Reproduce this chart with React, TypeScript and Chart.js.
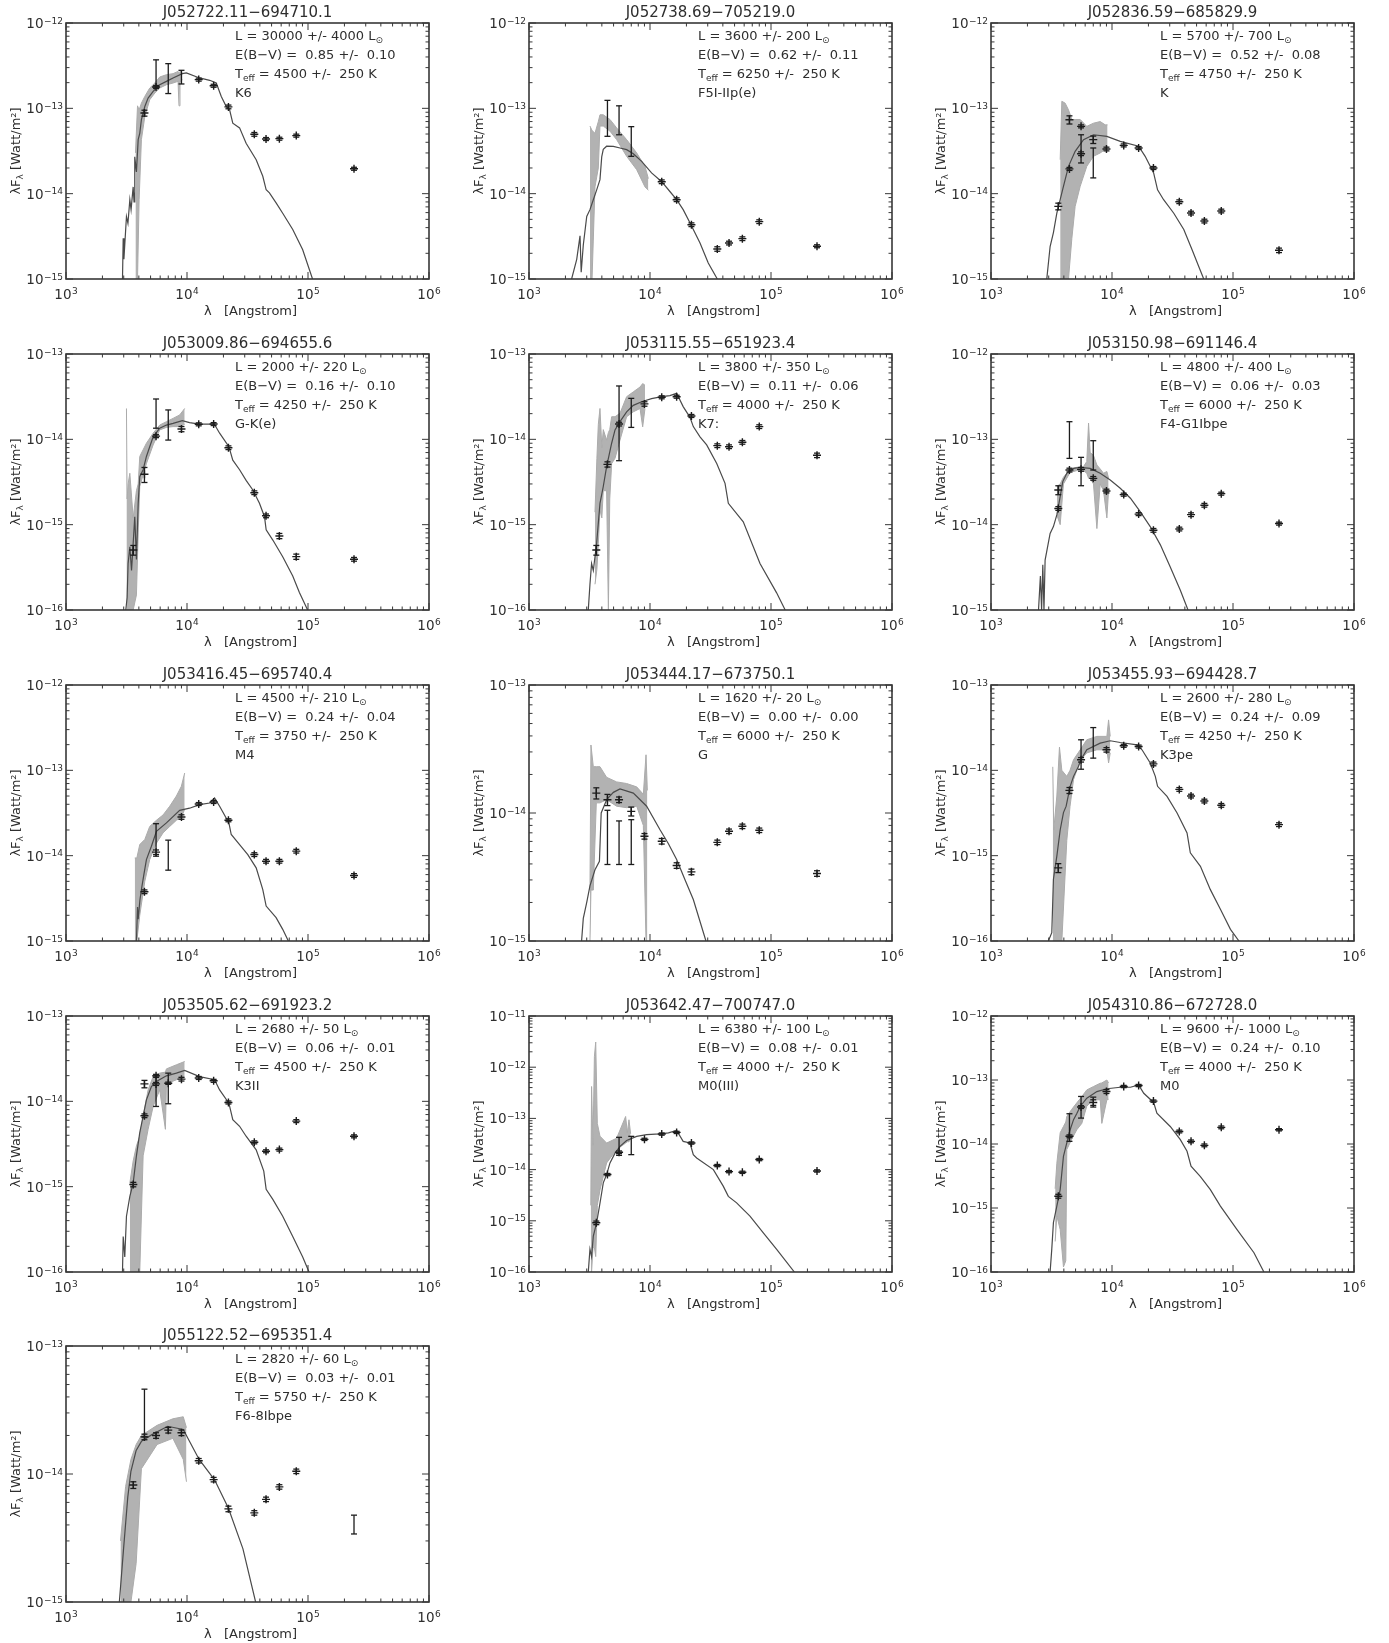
import React, { useEffect, useRef } from "react";
import { Chart, registerables } from "chart.js";

Chart.register(...registerables);

type XY = [number, number];
type Band = [number, number, number]; // wavelength, upper, lower
type Phot = [number, number, number]; // wavelength, flux, fractional error
type Bar = [number, number, number]; // wavelength, low, high

// ---------- titles and fit results ----------
const titles = [
  "J052722.11−694710.1", "J052738.69−705219.0", "J052836.59−685829.9",
  "J053009.86−694655.6", "J053115.55−651923.4", "J053150.98−691146.4",
  "J053416.45−695740.4", "J053444.17−673750.1", "J053455.93−694428.7",
  "J053505.62−691923.2", "J053642.47−700747.0", "J054310.86−672728.0",
  "J055122.52−695351.4",
];
const lumText = ["30000 +/- 4000", "3600 +/- 200", "5700 +/- 700", "2000 +/- 220", "3800 +/- 350", "4800 +/- 400", "4500 +/- 210", "1620 +/- 20", "2600 +/- 280", "2680 +/- 50", "6380 +/- 100", "9600 +/- 1000", "2820 +/- 60"];
const ebvText = ["0.85 +/-  0.10", "0.62 +/-  0.11", "0.52 +/-  0.08", "0.16 +/-  0.10", "0.11 +/-  0.06", "0.06 +/-  0.03", "0.24 +/-  0.04", "0.00 +/-  0.00", "0.24 +/-  0.09", "0.06 +/-  0.01", "0.08 +/-  0.01", "0.24 +/-  0.10", "0.03 +/-  0.01"];
const teffText = ["4500 +/-  250", "6250 +/-  250", "4750 +/-  250", "4250 +/-  250", "4000 +/-  250", "6000 +/-  250", "3750 +/-  250", "6000 +/-  250", "4250 +/-  250", "4500 +/-  250", "4000 +/-  250", "4000 +/-  250", "5750 +/-  250"];
const spTypes = ["K6", "F5I-IIp(e)", "K", "G-K(e)", "K7:", "F4-G1Ibpe", "M4", "G", "K3pe", "K3II", "M0(III)", "M0", "F6-8Ibpe"];
const yMins = [1e-15, 1e-15, 1e-15, 1e-16, 1e-16, 1e-15, 1e-15, 1e-15, 1e-16, 1e-16, 1e-16, 1e-16, 1e-15];
const yMaxs = [1e-12, 1e-12, 1e-12, 1e-13, 1e-13, 1e-12, 1e-12, 1e-13, 1e-13, 1e-13, 1e-11, 1e-12, 1e-13];
const xMin = 1e3;
const xMax = 1e6;

// ---------- panel 1 ----------
const p1Model: XY[] = [[2930,1.0e-15],[2970,3.0e-15],[3010,1.7e-15],[3160,5.4e-15],[3250,4.5e-15],[3370,8.5e-15],[3450,6.5e-15],[3590,1.2e-14],[3650,8.0e-15],[3700,2.7e-14],[3820,1.8e-14],[3950,4.3e-14],[4070,5.1e-14],[4200,7.4e-14],[4480,1.05e-13],[4770,1.32e-13],[5250,1.58e-13],[5950,1.89e-13],[6760,2.07e-13],[7670,2.27e-13],[9150,2.55e-13],[9880,2.6e-13],[12700,2.27e-13],[15400,2.13e-13],[17460,1.98e-13],[19200,1.38e-13],[21100,1.05e-13],[22500,9.6e-14],[23900,6.7e-14],[27200,5.9e-14],[30800,3.9e-14],[37300,2.5e-14],[42300,1.6e-14],[45100,1.11e-14],[48000,1.02e-14],[54500,7.8e-15],[61800,5.9e-15],[74800,3.8e-15],[90400,2.2e-15],[109000,1.0e-15]];
const p1Spec: Band[] = [[3750,3.0e-14,1.0e-15],[3900,1.07e-13,1.0e-15],[4020,9.6e-14,8.5e-15],[4200,1.15e-13,4.3e-14],[4480,1.38e-13,8.0e-14],[4920,1.73e-13,1.26e-13],[5420,1.98e-13,1.51e-13],[5950,2.33e-13,1.73e-13],[6760,2.48e-13,1.89e-13],[7670,2.55e-13,1.98e-13],[8430,2.71e-13,2.07e-13],[8590,2.6e-13,1.07e-13],[8750,2.71e-13,2.0e-13],[9150,2.64e-13,2.17e-13]];
const p1Phot: Phot[] = [[4450,8.8e-14,0.08],[5550,1.78e-13,0.04],[12500,2.17e-13,0.04],[16600,1.84e-13,0.04],[22000,1.04e-13,0.05],[36000,4.96e-14,0.05],[45000,4.37e-14,0.04],[58000,4.41e-14,0.04],[80000,4.79e-14,0.04],[240000,1.96e-14,0.04]];
const p1Bars: Bar[] = [[5550,1.78e-13,3.7e-13],[7000,1.49e-13,3.34e-13],[9000,1.93e-13,2.79e-13]];

// ---------- panel 2 ----------
const p2Model: XY[] = [[2250,1.0e-15],[2480,1.7e-15],[2640,3.2e-15],[2700,1.2e-15],[2810,2.5e-15],[3000,5.4e-15],[3190,6.5e-15],[3400,8.5e-15],[3620,1.1e-14],[3860,1.46e-14],[3990,2.7e-14],[4110,3.3e-14],[4380,3.6e-14],[4980,3.59e-14],[5650,3.43e-14],[6410,3.28e-14],[7280,2.94e-14],[8530,2.39e-14],[10300,1.75e-14],[12500,1.38e-14],[14600,1.06e-14],[16600,8.5e-15],[18800,6.5e-15],[21800,4.33e-15],[25900,2.64e-15],[30300,1.54e-15],[36000,1.0e-15]];
const p2Spec: Band[] = [[3190,6.2e-14,1.0e-15],[3320,5.5e-14,1.0e-15],[3510,5.1e-14,1.2e-14],[3740,7.0e-14,2.0e-14],[3860,8.4e-14,6.2e-14],[4110,8.4e-14,6.2e-14],[4670,7.4e-14,5.4e-14],[5300,5.9e-14,4.3e-14],[6410,4.3e-14,2.74e-14],[7760,3.0e-14,1.91e-14],[9090,2.09e-14,1.2e-14],[9690,1.5e-14,1.1e-14]];
const p2Phot: Phot[] = [[12500,1.38e-14,0.05],[16600,8.5e-15,0.05],[22000,4.33e-15,0.05],[36000,2.25e-15,0.06],[45000,2.64e-15,0.05],[58000,2.97e-15,0.05],[80000,4.7e-15,0.05],[240000,2.42e-15,0.04]];
const p2Bars: Bar[] = [[4450,4.7e-14,1.24e-13],[5550,4.9e-14,1.07e-13],[7000,2.74e-14,6.1e-14]];

// ---------- panel 3 ----------
const p3Model: XY[] = [[2890,1.0e-15],[3080,2.4e-15],[3280,3.5e-15],[3500,5.9e-15],[3730,8.5e-15],[3970,1.22e-14],[4370,2.09e-14],[4960,3.13e-14],[5820,4.3e-14],[7030,4.9e-14],[9070,4.7e-14],[11700,4.1e-14],[16600,3.6e-14],[18800,2.74e-14],[22080,1.75e-14],[23800,1.11e-14],[26700,8.5e-15],[32400,5.9e-15],[39200,3.8e-15],[45900,2.2e-15],[52100,1.4e-15],[57300,1.0e-15]];
const p3Spec: Band[] = [[3730,2.5e-14,1.0e-15],[3850,1.21e-13,1.0e-15],[4100,1.15e-13,1.0e-15],[4370,9.6e-14,1.0e-15],[4660,7.4e-14,3.0e-15],[4960,7.4e-14,7.1e-15],[5460,7.4e-14,1.22e-14],[6190,6.15e-14,2.09e-14],[7030,6.7e-14,2.74e-14],[7990,7.0e-14,3.0e-14],[8790,6.4e-14,3.3e-14],[9190,6.4e-14,3.6e-14]];
const p3Phot: Phot[] = [[3600,7.1e-15,0.09],[4450,7.36e-14,0.11],[4450,1.95e-14,0.04],[5550,6.15e-14,0.04],[5550,2.94e-14,0.05],[7000,4.3e-14,0.1],[9000,3.34e-14,0.05],[12500,3.68e-14,0.04],[16600,3.43e-14,0.04],[22000,2.0e-14,0.04],[36000,8.05e-15,0.05],[45000,5.93e-15,0.05],[58000,4.78e-15,0.05],[80000,6.27e-15,0.05],[240000,2.17e-15,0.06]];
const p3Bars: Bar[] = [[5550,2.29e-14,4.9e-14],[7000,1.53e-14,3.43e-14]];

// ---------- panel 4 ----------
const p4Model: XY[] = [[3120,1.0e-16],[3200,1.4e-16],[3260,3.5e-16],[3370,5.5e-16],[3480,2.9e-16],[3590,6.0e-16],[3700,1.24e-15],[3820,3.9e-16],[3950,1.78e-15],[4070,3.65e-15],[4340,4.4e-15],[4620,6.3e-15],[4920,8.2e-15],[5250,1.07e-14],[5950,1.35e-14],[6760,1.47e-14],[7670,1.54e-14],[9150,1.66e-14],[10500,1.57e-14],[12700,1.51e-14],[16800,1.51e-14],[18600,1.18e-14],[22200,8.2e-15],[23900,5.7e-15],[27200,4.4e-15],[30800,3.3e-15],[35000,2.55e-15],[39700,1.78e-15],[43700,1.24e-15],[45100,8.7e-16],[51200,6.6e-16],[61800,4.2e-16],[74800,2.5e-16],[84900,1.6e-16],[99300,1.0e-16]];
const p4Spec: Band[] = [[3160,2.3e-14,1.0e-16],[3200,2.0e-15,1.0e-16],[3260,3.0e-15,1.0e-16],[3370,4.0e-15,1.0e-16],[3590,1.2e-15,1.0e-16],[3820,2.5e-15,1.5e-16],[3950,3.0e-15,8.0e-16],[4070,6.3e-15,2.8e-15],[4620,9.0e-15,5.2e-15],[5250,1.18e-14,8.6e-15],[5950,1.47e-14,1.29e-14],[6760,1.61e-14,1.38e-14],[7670,1.76e-14,1.41e-14],[8700,1.93e-14,1.41e-14],[9570,2.3e-14,1.5e-14]];
const p4Phot: Phot[] = [[3600,5.05e-16,0.13],[4450,3.9e-15,0.2],[5550,1.09e-14,0.04],[9000,1.32e-14,0.07],[12500,1.5e-14,0.04],[16600,1.51e-14,0.04],[22000,7.98e-15,0.05],[36000,2.37e-15,0.05],[45000,1.27e-15,0.05],[58000,7.37e-16,0.07],[80000,4.22e-16,0.07],[240000,3.93e-16,0.05]];
const p4Bars: Bar[] = [[5550,1.35e-14,2.97e-14],[7000,9.8e-15,2.21e-14]];

// ---------- panel 5 ----------
const p5Model: XY[] = [[3090,1.0e-16],[3190,2.0e-16],[3290,3.5e-16],[3400,2.9e-16],[3620,6.0e-16],[3860,1.78e-15],[4110,2.8e-15],[4380,4.8e-15],[4820,9.0e-15],[5140,1.29e-14],[5650,1.61e-14],[6410,2.1e-14],[7280,2.5e-14],[8530,2.76e-14],[10300,3.0e-14],[12500,3.16e-14],[14600,3.25e-14],[16600,3.46e-14],[18800,2.42e-14],[21400,1.81e-14],[22800,1.41e-14],[25900,1.07e-14],[29400,8.6e-15],[35600,5.2e-15],[41700,3.05e-15],[44400,1.78e-15],[59000,1.08e-15],[81100,3.5e-16],[111000,1.6e-16],[131000,1.0e-16]];
const p5Spec: Band[] = [[3510,1.4e-15,2.0e-16],[3640,6.0e-15,3.0e-16],[3740,1.5e-14,6.0e-16],[3860,2.3e-14,1.5e-15],[4000,8.0e-15,1.2e-15],[4110,1.3e-14,2.5e-15],[4380,9.8e-15,2.5e-15],[4530,1.2e-14,1.0e-16],[4650,1.3e-14,2.0e-15],[4820,1.84e-14,5.2e-15],[5140,1.84e-14,6.0e-15],[5650,2.02e-14,9.8e-15],[6410,3.16e-14,1.84e-14],[7280,3.6e-14,2.1e-14],[8270,4.1e-14,2.3e-14],[8700,4.5e-14,1.4e-14],[9090,4.3e-14,2.3e-14]];
const p5Phot: Phot[] = [[3600,5.05e-16,0.13],[4450,5.09e-15,0.07],[5550,1.51e-14,0.05],[9000,2.6e-14,0.06],[12500,3.11e-14,0.04],[16600,3.16e-14,0.04],[22000,1.88e-14,0.04],[36000,8.43e-15,0.05],[45000,8.2e-15,0.05],[58000,9.23e-15,0.05],[80000,1.41e-14,0.05],[240000,6.5e-15,0.06]];
const p5Bars: Bar[] = [[5550,5.62e-15,4.22e-14],[7000,1.38e-14,3.02e-14]];

// ---------- panel 6 ----------
const p6Model: XY[] = [[2470,1.0e-15],[2560,2.5e-15],[2620,1.0e-15],[2680,3.4e-15],[2740,1.0e-15],[2800,3.85e-15],[3080,7.9e-15],[3280,9.5e-15],[3500,1.3e-14],[3730,2.13e-14],[3920,3.2e-14],[4230,4.0e-14],[4810,4.57e-14],[5460,4.7e-14],[6600,4.57e-14],[7990,4.0e-14],[9670,3.34e-14],[11700,2.67e-14],[14200,2.04e-14],[17100,1.42e-14],[20700,9.5e-15],[25100,5.8e-15],[30300,3.2e-15],[36700,1.7e-15],[42500,1.0e-15]];
const p6Spec: Band[] = [[3500,2.8e-14,1.3e-14],[3730,3.0e-14,1.0e-14],[3970,3.6e-14,3.0e-14],[4510,4.5e-14,4.1e-14],[5120,4.7e-14,4.3e-14],[5820,4.8e-14,4.3e-14],[6190,5.5e-14,4.0e-14],[6400,1.55e-13,3.5e-14],[6600,7.0e-14,3.5e-14],[7030,6.5e-14,3.0e-14],[7500,5.0e-14,9.0e-15],[7990,4.5e-14,3.0e-14],[8510,4.0e-14,2.5e-14],[9070,4.2e-14,1.2e-14],[9370,3.5e-14,2.5e-14]];
const p6Phot: Phot[] = [[3600,2.55e-14,0.12],[3600,1.55e-14,0.05],[4450,4.37e-14,0.05],[5550,4.45e-14,0.05],[7000,3.49e-14,0.05],[9000,2.48e-14,0.05],[12500,2.25e-14,0.04],[16600,1.33e-14,0.04],[22000,8.59e-15,0.05],[36000,8.9e-15,0.05],[45000,1.31e-14,0.05],[58000,1.69e-14,0.05],[80000,2.31e-14,0.04],[240000,1.03e-14,0.04]];
const p6Bars: Bar[] = [[4450,5.98e-14,1.61e-13],[5550,2.86e-14,6.15e-14],[7000,4.37e-14,9.64e-14]];

// ---------- panel 7 ----------
const p7Model: XY[] = [[3820,1.0e-15],[3900,2.5e-15],[3950,1.8e-15],[4080,3.0e-15],[4200,4.0e-15],[4400,6.0e-15],[4620,9.0e-15],[5080,1.29e-14],[5590,1.93e-14],[6760,2.42e-14],[8700,3.4e-14],[10500,3.6e-14],[12700,3.96e-14],[15400,4.14e-14],[16900,4.73e-14],[18600,3.8e-14],[22200,2.42e-14],[23200,1.77e-14],[27200,1.35e-14],[31800,1.03e-14],[37300,7.2e-15],[42300,4.0e-15],[45100,2.57e-15],[54500,1.88e-15],[61800,1.37e-15],[68800,1.0e-15]];
const p7Spec: Band[] = [[3700,9.4e-15,1.0e-15],[3850,9.4e-15,1.0e-15],[4070,1.35e-14,2.0e-15],[4480,1.55e-14,5.0e-15],[4920,2.2e-14,9.0e-15],[5590,2.6e-14,1.4e-14],[6340,3.0e-14,1.85e-14],[7200,3.8e-14,2.2e-14],[8170,5.0e-14,2.6e-14],[8980,6.5e-14,2.8e-14],[9570,9.3e-14,3.5e-14]];
const p7Phot: Phot[] = [[4450,3.78e-15,0.05],[5550,1.1e-14,0.06],[9000,2.84e-14,0.06],[12500,4.03e-14,0.04],[16600,4.26e-14,0.04],[22000,2.6e-14,0.04],[36000,1.03e-14,0.05],[45000,8.61e-15,0.05],[58000,8.61e-15,0.05],[80000,1.13e-14,0.05],[240000,5.86e-15,0.05]];
const p7Bars: Bar[] = [[5550,9.86e-15,2.37e-14],[7000,6.76e-15,1.52e-14]];

// ---------- panel 8 ----------
const p8Model: XY[] = [[2720,1.0e-15],[2810,1.5e-15],[3000,2.0e-15],[3190,2.7e-15],[3510,3.6e-15],[3820,4.2e-15],[3950,1.0e-14],[4380,1.27e-14],[4980,1.45e-14],[5650,1.54e-14],[7280,1.43e-14],[9380,1.13e-14],[12100,7.4e-15],[14200,5.75e-15],[16600,4.33e-15],[19500,3.0e-15],[22800,2.11e-15],[29000,1.0e-15]];
const p8Spec: Band[] = [[3190,2.5e-15,1.0e-15],[3250,3.4e-14,2.5e-15],[3400,2.3e-14,2.5e-15],[3600,2.3e-14,1.2e-14],[3860,2.3e-14,1.2e-14],[4380,1.9e-14,1.27e-14],[5300,1.75e-14,1.13e-14],[6410,1.7e-14,1.1e-14],[7760,1.6e-14,1.13e-14],[8810,1.4e-14,8.0e-15],[9270,2.85e-14,1.0e-15],[9510,1.5e-14,1.0e-15]];
const p8Phot: Phot[] = [[3600,1.43e-14,0.1],[4450,1.27e-14,0.1],[5550,1.27e-14,0.05],[7000,1.03e-14,0.08],[9000,6.58e-15,0.05],[12500,6.02e-15,0.05],[16600,3.89e-15,0.05],[22000,3.47e-15,0.05],[36000,5.9e-15,0.04],[45000,7.2e-15,0.04],[58000,7.87e-15,0.04],[80000,7.33e-15,0.04],[240000,3.37e-15,0.05]];
const p8Bars: Bar[] = [[4450,3.96e-15,1.05e-14],[5550,3.96e-15,8.67e-15],[7000,3.96e-15,8.87e-15]];

// ---------- panel 9 ----------
const p9Model: XY[] = [[2980,1.0e-16],[3180,1.25e-16],[3280,5.3e-16],[3500,9.9e-16],[3730,2.0e-15],[3970,3.2e-15],[4180,3.8e-15],[4510,6.5e-15],[4810,8.5e-15],[5280,1.11e-14],[5530,1.33e-14],[6190,1.74e-14],[7990,2.08e-14],[9670,2.22e-14],[11700,2.12e-14],[16100,1.99e-14],[17700,1.74e-14],[20700,1.22e-14],[22800,8.5e-15],[23800,6.5e-15],[28500,4.95e-15],[34500,3.16e-15],[41700,1.85e-15],[44400,1.08e-15],[53800,7.5e-16],[65000,4.0e-16],[78700,2.35e-16],[95300,1.37e-16],[112000,1.0e-16]];
const p9Spec: Band[] = [[3240,1.1e-14,1.0e-16],[3300,2.0e-15,1.0e-16],[3500,5.0e-15,1.0e-16],[3680,1.87e-14,1.0e-16],[3850,1.0e-14,1.0e-16],[4230,8.5e-15,1.5e-15],[4500,1.0e-14,3.8e-15],[4810,1.33e-14,7.8e-15],[5460,1.74e-14,1.3e-14],[6190,2.28e-14,1.6e-14],[7500,2.5e-14,1.74e-14],[9070,2.5e-14,1.74e-14],[9370,3.9e-14,1.22e-14],[9670,2.5e-14,1.6e-14]];
const p9Phot: Phot[] = [[3600,7.2e-16,0.12],[4450,5.82e-15,0.08],[5550,1.33e-14,0.06],[9000,1.74e-14,0.06],[12500,1.94e-14,0.04],[16600,1.9e-14,0.04],[22000,1.19e-14,0.05],[36000,5.98e-15,0.05],[45000,5.0e-15,0.05],[58000,4.37e-15,0.05],[80000,3.89e-15,0.05],[240000,2.31e-15,0.05]];
const p9Bars: Bar[] = [[5550,1.03e-14,2.28e-14],[7000,1.39e-14,3.17e-14]];

// ---------- panel 10 ----------
const p10Model: XY[] = [[2930,1.0e-16],[2970,2.6e-16],[3060,1.5e-16],[3160,4.5e-16],[3370,7.7e-16],[3590,1.1e-15],[3820,2.3e-15],[4070,4.3e-15],[4340,6.7e-15],[4620,1.04e-14],[5080,1.49e-14],[5590,1.71e-14],[6760,1.99e-14],[8170,2.14e-14],[9570,2.3e-14],[12700,1.95e-14],[16900,1.79e-14],[18600,1.36e-14],[22200,9.5e-15],[23900,6.1e-15],[27200,5.1e-15],[30800,3.9e-15],[37300,2.7e-15],[43100,1.52e-15],[45100,9.3e-16],[51200,7.1e-16],[61800,4.5e-16],[74800,2.6e-16],[90400,1.5e-16],[102000,1.0e-16]];
const p10Spec: Band[] = [[3370,1.1e-15,1.0e-16],[3590,2.0e-15,1.0e-16],[3820,3.0e-15,1.0e-16],[4070,3.9e-15,1.0e-16],[4340,6.7e-15,2.3e-15],[4770,1.36e-14,4.7e-15],[5250,1.95e-14,8.7e-15],[5950,2.14e-14,1.36e-14],[6630,2.2e-14,4.7e-15],[6760,2.4e-14,1.6e-14],[8170,2.68e-14,1.79e-14],[9570,2.93e-14,1.9e-14]];
const p10Phot: Phot[] = [[3600,1.06e-15,0.06],[4450,1.6e-14,0.1],[4450,6.78e-15,0.05],[5550,1.99e-14,0.04],[5550,1.6e-14,0.04],[7000,1.63e-14,0.03],[9000,1.82e-14,0.05],[12500,1.88e-14,0.04],[16600,1.74e-14,0.04],[22000,9.7e-15,0.04],[36000,3.31e-15,0.04],[45000,2.6e-15,0.04],[58000,2.72e-15,0.04],[80000,5.87e-15,0.04],[240000,3.89e-15,0.04]];
const p10Bars: Bar[] = [[5550,8.71e-15,1.99e-14],[7000,9.37e-15,2.14e-14]];

// ---------- panel 11 ----------
const p11Model: XY[] = [[3090,1.0e-16],[3190,2.8e-16],[3290,2.0e-16],[3400,5.0e-16],[3620,9.1e-16],[3860,2.2e-15],[4110,5.5e-15],[4380,8.0e-15],[4670,1.35e-14],[5140,2.1e-14],[5650,2.85e-14],[6410,3.7e-14],[7760,4.46e-14],[9380,4.8e-14],[12100,5.0e-14],[14200,5.2e-14],[16600,5.8e-14],[18800,3.56e-14],[21400,3.31e-14],[22800,1.96e-14],[24300,1.69e-14],[33400,1.0e-14],[40400,4.7e-15],[44400,3.0e-15],[52000,2.24e-15],[67000,1.23e-15],[86400,5.8e-16],[111000,2.8e-16],[156000,1.0e-16]];
const p11Spec: Band[] = [[3240,2.0e-15,1.0e-16],[3290,4.2e-13,1.0e-16],[3380,3.0e-14,3.0e-16],[3470,1.6e-12,3.0e-16],[3560,3.1e-12,2.0e-16],[3670,8.0e-14,2.0e-15],[3860,4.5e-14,4.0e-15],[4380,3.3e-14,1.35e-14],[5300,4.1e-14,2.45e-14],[6290,1.09e-13,3.3e-14],[6500,5.2e-14,3.5e-14],[6700,9.4e-14,3.5e-14],[6920,5.0e-14,4.0e-14]];
const p11Phot: Phot[] = [[3600,9.14e-16,0.08],[4450,8.0e-15,0.05],[5550,2.18e-14,0.06],[9000,3.9e-14,0.05],[12500,4.95e-14,0.05],[16600,5.33e-14,0.05],[22000,3.31e-14,0.05],[36000,1.2e-14,0.05],[45000,9.14e-15,0.05],[58000,8.87e-15,0.05],[80000,1.57e-14,0.05],[240000,9.42e-15,0.05]];
const p11Bars: Bar[] = [[5550,1.9e-14,4.27e-14],[7000,1.96e-14,4.46e-14]];

// ---------- panel 12 ----------
const p12Model: XY[] = [[3080,1.0e-16],[3180,2.3e-16],[3280,5.9e-16],[3500,1.07e-15],[3730,1.94e-15],[3970,6.4e-15],[4230,1.04e-14],[4510,1.67e-14],[4810,2.4e-14],[5120,3.0e-14],[5460,3.86e-14],[6190,5.2e-14],[7500,6.6e-14],[9070,7.3e-14],[11700,7.7e-14],[14200,7.7e-14],[16600,8.4e-14],[18300,6.2e-14],[22080,4.46e-14],[23500,3.04e-14],[30300,1.88e-14],[36700,1.17e-14],[41700,7.7e-15],[45000,4.5e-15],[53800,3.1e-15],[65000,1.94e-15],[78700,1.07e-15],[108000,4.6e-16],[149000,2.0e-16],[180000,1.0e-16]];
const p12Spec: Band[] = [[3390,2.0e-15,3.0e-16],[3500,5.0e-15,7.5e-16],[3730,1.5e-14,4.6e-16],[3970,1.88e-14,1.2e-16],[4150,2.2e-14,1.5e-16],[4230,2.7e-14,8.2e-15],[4660,3.5e-14,1.2e-14],[5120,4.4e-14,1.67e-14],[5630,5.5e-14,2.1e-14],[6190,7.0e-14,3.9e-14],[7030,7.9e-14,4.9e-14],[7990,8.9e-14,4.9e-14],[8240,9.0e-14,2.1e-14],[9070,1.0e-13,4.9e-14],[9370,9.0e-14,5.0e-14]];
const p12Phot: Phot[] = [[3600,1.53e-15,0.07],[4450,1.32e-14,0.05],[5550,3.78e-14,0.05],[7000,4.46e-14,0.1],[9000,6.62e-14,0.07],[12500,7.92e-14,0.04],[16600,8.2e-14,0.04],[22000,4.68e-14,0.04],[36000,1.57e-14,0.05],[45000,1.1e-14,0.05],[58000,9.53e-15,0.05],[80000,1.82e-14,0.05],[240000,1.67e-14,0.04]];
const p12Bars: Bar[] = [[4450,1.1e-14,2.97e-14],[5550,2.54e-14,5.53e-14],[7000,3.78e-14,5.4e-14]];

// ---------- panel 13 ----------
const p13Model: XY[] = [[2760,1.0e-15],[2990,2.6e-15],[3240,6.6e-15],[3440,1.05e-14],[3800,1.53e-14],[4200,1.8e-14],[5130,2.03e-14],[6920,2.36e-14],[9310,2.23e-14],[12600,1.3e-14],[16900,9.0e-15],[22000,5.4e-15],[29000,2.6e-15],[36900,1.0e-15]];
const p13Spec: Band[] = [[2820,3.0e-15,1.0e-15],[3110,8.0e-15,1.0e-15],[3440,1.3e-14,1.0e-15],[3800,1.7e-14,2.0e-15],[4200,2.0e-14,1.1e-14],[5660,2.4e-14,1.7e-14],[7640,2.7e-14,1.9e-14],[9310,2.8e-14,1.3e-14],[9900,2.3e-14,8.7e-15]];
const p13Phot: Phot[] = [[3600,8.2e-15,0.06],[4450,1.95e-14,0.05],[5550,2.0e-14,0.05],[7000,2.2e-14,0.05],[9000,2.1e-14,0.05],[12500,1.27e-14,0.04],[16600,9.04e-15,0.04],[22000,5.34e-15,0.05],[36000,4.97e-15,0.04],[45000,6.34e-15,0.04],[58000,7.93e-15,0.04],[80000,1.05e-14,0.04]];
const p13Bars: Bar[] = [[4450,1.95e-14,4.6e-14],[240000,3.4e-15,4.77e-15]];

const models = [p1Model, p2Model, p3Model, p4Model, p5Model, p6Model, p7Model, p8Model, p9Model, p10Model, p11Model, p12Model, p13Model];
const specs = [p1Spec, p2Spec, p3Spec, p4Spec, p5Spec, p6Spec, p7Spec, p8Spec, p9Spec, p10Spec, p11Spec, p12Spec, p13Spec];
const phots = [p1Phot, p2Phot, p3Phot, p4Phot, p5Phot, p6Phot, p7Phot, p8Phot, p9Phot, p10Phot, p11Phot, p12Phot, p13Phot];
const barsAll = [p1Bars, p2Bars, p3Bars, p4Bars, p5Bars, p6Bars, p7Bars, p8Bars, p9Bars, p10Bars, p11Bars, p12Bars, p13Bars];

// ---------- styling / layout ----------
const FONT = '"DejaVu Sans", "Liberation Sans", sans-serif';
const font = (s: number) => `${s}px ${FONT}`;
const TEXT = "#2e2e2e";
const AXIS = "#383838";
const MODEL = "#4a4a4a";
const SPEC_LINE = "#ababab";
const SPEC_FILL = "#b2b2b2";
const MARK = "#1c1c1c";

const PLOT_W = 363;
const PLOT_H = 256;
const CANVAS_W = 460;
const CANVAS_H = 322;
const PAD_L = 66;
const PAD_T = 23;
const colLefts = [66, 529, 991];
const rowTops = [23, 354, 685, 1016, 1346];

function logTicks(min: number, max: number): number[] {
  const out: number[] = [];
  const e0 = Math.round(Math.log10(min));
  const e1 = Math.round(Math.log10(max));
  for (let e = e0; e < e1; e++) for (let k = 1; k < 10; k++) out.push(k * Math.pow(10, e));
  out.push(max);
  return out;
}
const isMajor = (v: number) => Math.abs(Math.log10(v) - Math.round(Math.log10(v))) < 1e-6;

type Seg = { t: string; s: number; dy?: number };
function segsWidth(ctx: CanvasRenderingContext2D, segs: Seg[]) {
  let w = 0;
  for (const g of segs) { ctx.font = font(g.s); w += ctx.measureText(g.t).width; }
  return w;
}
function drawSegs(ctx: CanvasRenderingContext2D, segs: Seg[], x: number, y: number) {
  for (const g of segs) {
    ctx.font = font(g.s);
    ctx.fillText(g.t, x, y + (g.dy || 0));
    x += ctx.measureText(g.t).width;
  }
}
function drawPow(ctx: CanvasRenderingContext2D, e: number, x: number, yMid: number, align: "right" | "center") {
  const es = e < 0 ? "−" + Math.abs(e) : String(e);
  ctx.font = font(13.5);
  const wb = ctx.measureText("10").width;
  ctx.font = font(9);
  const we = ctx.measureText(es).width;
  const total = wb + we + 0.5;
  const x0 = align === "right" ? x - total : x - total / 2;
  ctx.font = font(13.5);
  ctx.fillText("10", x0, yMid + 5);
  ctx.font = font(9);
  ctx.fillText(es, x0 + wb + 0.5, yMid + 0.5);
}

function decorPlugin(i: number) {
  return {
    id: "sedDecor" + i,
    afterDraw(chart: any) {
      const { ctx, chartArea: ca, scales } = chart;
      const xs = scales.x;
      const ys = scales.y;
      ctx.save();
      // frame
      ctx.strokeStyle = AXIS;
      ctx.lineWidth = 1.6;
      ctx.strokeRect(ca.left, ca.top, ca.right - ca.left, ca.bottom - ca.top);
      // inward ticks on all four sides
      ctx.lineWidth = 1;
      ctx.beginPath();
      for (const v of logTicks(xMin, xMax)) {
        const p = xs.getPixelForValue(v);
        const L = isMajor(v) ? 7 : 3.5;
        ctx.moveTo(p, ca.bottom); ctx.lineTo(p, ca.bottom - L);
        ctx.moveTo(p, ca.top); ctx.lineTo(p, ca.top + L);
      }
      for (const v of logTicks(yMins[i], yMaxs[i])) {
        const p = ys.getPixelForValue(v);
        const L = isMajor(v) ? 7 : 3.5;
        ctx.moveTo(ca.left, p); ctx.lineTo(ca.left + L, p);
        ctx.moveTo(ca.right, p); ctx.lineTo(ca.right - L, p);
      }
      ctx.stroke();

      ctx.fillStyle = TEXT;
      ctx.textAlign = "left";
      ctx.textBaseline = "alphabetic";
      // tick labels
      for (const v of logTicks(xMin, xMax)) {
        if (!isMajor(v)) continue;
        drawPow(ctx, Math.round(Math.log10(v)), xs.getPixelForValue(v), ca.bottom + 14.5, "center");
      }
      for (const v of logTicks(yMins[i], yMaxs[i])) {
        if (!isMajor(v)) continue;
        drawPow(ctx, Math.round(Math.log10(v)), ca.left - 3, ys.getPixelForValue(v), "right");
      }
      // x title
      const xt: Seg[] = [{ t: "λ   [Angstrom]", s: 13 }];
      const cx = (ca.left + ca.right) / 2 + 3;
      drawSegs(ctx, xt, cx - segsWidth(ctx, xt) / 2, ca.bottom + 36);
      // y title (rotated)
      const yt: Seg[] = [{ t: "λF", s: 13 }, { t: "λ", s: 9, dy: 3 }, { t: " [Watt/m²]", s: 13 }];
      ctx.save();
      ctx.translate(ca.left - 51, (ca.top + ca.bottom) / 2);
      ctx.rotate(-Math.PI / 2);
      drawSegs(ctx, yt, -segsWidth(ctx, yt) / 2, 4.5);
      ctx.restore();
      // panel title
      const tt: Seg[] = [{ t: titles[i], s: 15 }];
      drawSegs(ctx, tt, (ca.left + ca.right) / 2 - segsWidth(ctx, tt) / 2, ca.top - 6.3);
      // fit annotation
      const tx = ca.left + 169;
      const by = ca.top + 16.5;
      drawSegs(ctx, [{ t: `L = ${lumText[i]} L`, s: 13 }, { t: "⊙", s: 9, dy: 3 }], tx, by);
      drawSegs(ctx, [{ t: `E(B−V) =  ${ebvText[i]}`, s: 13 }], tx, by + 19);
      drawSegs(ctx, [{ t: "T", s: 13 }, { t: "eff", s: 9, dy: 3 }, { t: ` = ${teffText[i]} K`, s: 13 }], tx, by + 38);
      drawSegs(ctx, [{ t: spTypes[i], s: 13 }], tx, by + 57);
      ctx.restore();
    },
  };
}

function buildConfig(i: number): any {
  const spec = specs[i];
  const err: any[] = [];
  phots[i].forEach(([l, y, e]) => {
    err.push({ x: l, y: y * (1 - e) }, { x: l, y: y * (1 + e) }, { x: l, y: null });
  });
  barsAll[i].forEach(([l, lo, hi]) => {
    err.push({ x: l, y: lo }, { x: l, y: hi }, { x: l, y: null });
  });
  return {
    type: "line",
    data: {
      datasets: [
        { label: "spectrum upper", data: spec.map(([l, h]) => ({ x: l, y: h })), borderColor: SPEC_LINE, backgroundColor: SPEC_FILL, borderWidth: 1, pointRadius: 0, pointHoverRadius: 0, fill: "+1", order: 5 },
        { label: "spectrum lower", data: spec.map(([l, , lo]) => ({ x: l, y: lo })), borderColor: SPEC_LINE, backgroundColor: SPEC_FILL, borderWidth: 1, pointRadius: 0, pointHoverRadius: 0, fill: false, order: 4 },
        { label: "model", data: models[i].map(([l, v]) => ({ x: l, y: v })), borderColor: MODEL, borderWidth: 1.2, pointRadius: 0, pointHoverRadius: 0, fill: false, order: 3 },
        { label: "error bars", data: err, borderColor: MARK, borderWidth: 1.3, pointStyle: "line", pointRadius: 3, pointHoverRadius: 3, pointBorderWidth: 1.3, pointBorderColor: MARK, pointBackgroundColor: MARK, fill: false, spanGaps: false, order: 2 },
        { label: "photometry", data: phots[i].map(([l, y]) => ({ x: l, y })), showLine: false, pointStyle: "cross", pointRadius: 4, pointHoverRadius: 4, pointBorderWidth: 1.4, pointBorderColor: MARK, borderColor: MARK, order: 1 },
      ],
    },
    options: {
      responsive: false,
      animation: false,
      events: [],
      layout: { padding: { left: 0, top: PAD_T, right: CANVAS_W - PAD_L - PLOT_W, bottom: 0 } },
      plugins: { legend: { display: false }, tooltip: { enabled: false }, title: { display: false } },
      scales: {
        x: {
          type: "logarithmic", min: xMin, max: xMax,
          grid: { display: false }, border: { display: false }, ticks: { display: false },
          afterFit: (s: any) => { s.height = CANVAS_H - PAD_T - PLOT_H; },
        },
        y: {
          type: "logarithmic", min: yMins[i], max: yMaxs[i],
          grid: { display: false }, border: { display: false }, ticks: { display: false },
          afterFit: (s: any) => { s.width = PAD_L; },
        },
      },
    },
    plugins: [decorPlugin(i)],
  };
}

function Panel({ idx }: { idx: number }) {
  const ref = useRef<HTMLCanvasElement>(null);
  useEffect(() => {
    if (!ref.current) return;
    const chart = new Chart(ref.current, buildConfig(idx));
    return () => chart.destroy();
  }, [idx]);
  const col = idx % 3;
  const row = Math.floor(idx / 3);
  return (
    <canvas
      ref={ref}
      width={CANVAS_W}
      height={CANVAS_H}
      style={{ position: "absolute", left: colLefts[col] - PAD_L, top: rowTops[row] - PAD_T, width: CANVAS_W, height: CANVAS_H }}
    />
  );
}

export default function App() {
  return (
    <div style={{ position: "absolute", left: 0, top: 0, width: 1389, height: 1643, overflow: "hidden", background: "#ffffff" }}>
      {titles.map((_, i) => (
        <Panel key={i} idx={i} />
      ))}
    </div>
  );
}
